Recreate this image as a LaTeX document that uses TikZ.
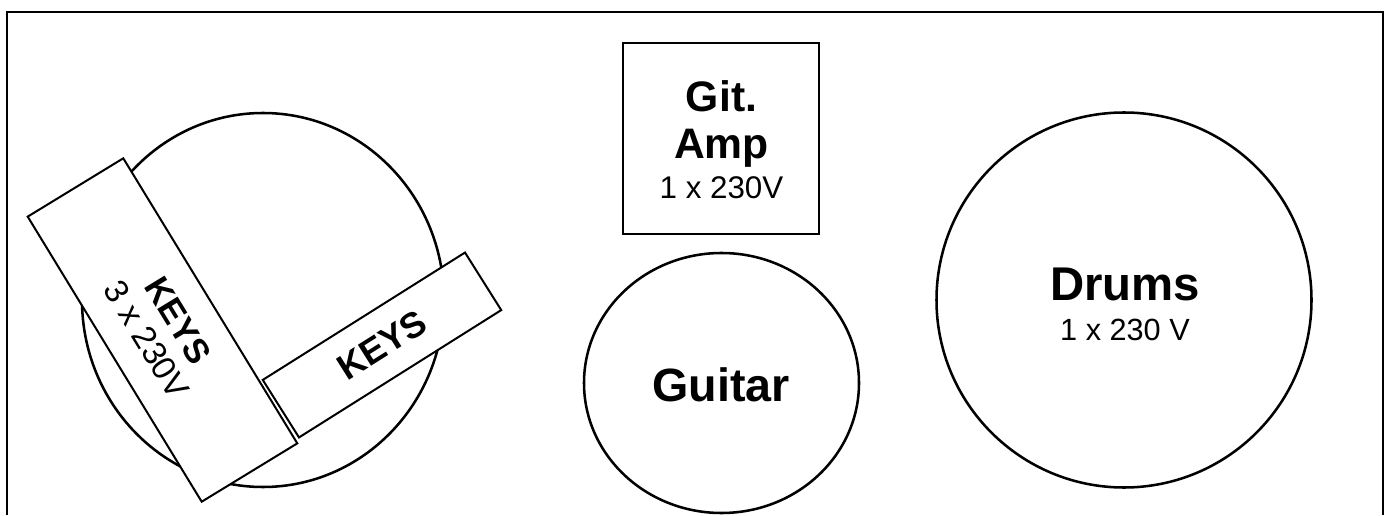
\documentclass[tikz,border=0pt]{standalone}
\usepackage{fontspec}
\setmainfont{Liberation Sans}
\usetikzlibrary{shapes.geometric}
\begin{document}
\begin{tikzpicture}[x=0.75pt,y=0.75pt,
  frameline/.style={line width=1.5pt},
  ring/.style={draw, ellipse, line width=1.9pt, inner sep=0pt},
  box/.style={draw, fill=white, rectangle, line width=1.5pt, inner sep=0pt},
  lbl/.style={anchor=base, inner sep=0pt}]
\useasboundingbox (0,0) rectangle (1389,515);
% frame
\coordinate (fbl) at (7,0);
\coordinate (ftl) at (7,503);
\coordinate (ftr) at (1383,503);
\coordinate (fbr) at (1383,0);
\draw[frameline] (fbl) -- (ftl) -- (ftr) -- (fbr);
% keys area
\node[ring, minimum width=271.5pt, minimum height=280.5pt] (keysarea) at (263,215) {};
\node[box, minimum width=250.5pt, minimum height=84pt, rotate=-58.6, align=center,
      font=\fontsize{25pt}{27pt}\selectfont] (keysA) at (162.5,185)
      {{\bfseries\fontsize{26pt}{27pt}\selectfont KEYS}\\3 x 230V};
\node[box, minimum width=179.25pt, minimum height=51pt, rotate=32.2,
      font=\fontsize{27pt}{30pt}\selectfont\bfseries] (keysB) at (382,170) {KEYS};
% guitar amp
\node[box, minimum width=147pt, minimum height=143.25pt] (amp) at (721,376.5) {};
\node[lbl, font=\fontsize{32pt}{36pt}\selectfont\bfseries] (ampA) at (721.5,403.3) {Git.};
\node[lbl, font=\fontsize{32pt}{36pt}\selectfont\bfseries] (ampB) at (721.5,356.7) {Amp};
\node[lbl, font=\fontsize{23.5pt}{27pt}\selectfont] (ampC) at (721.5,316.7) {1 x 230V};
% guitar
\node[ring, minimum width=206.25pt, minimum height=195pt] (guitar) at (721.5,132) {};
\node[lbl, font=\fontsize{35pt}{40pt}\selectfont\bfseries] (guitarT) at (721,113.3) {Guitar};
% drums
\node[ring, minimum width=281.25pt, minimum height=281.25pt] (drums) at (1124,215) {};
\node[lbl, font=\fontsize{35.5pt}{40pt}\selectfont\bfseries] (drumsT) at (1125,215) {Drums};
\node[lbl, font=\fontsize{23pt}{27pt}\selectfont] (drumsV) at (1125,175) {1 x 230 V};
\end{tikzpicture}
\end{document}
